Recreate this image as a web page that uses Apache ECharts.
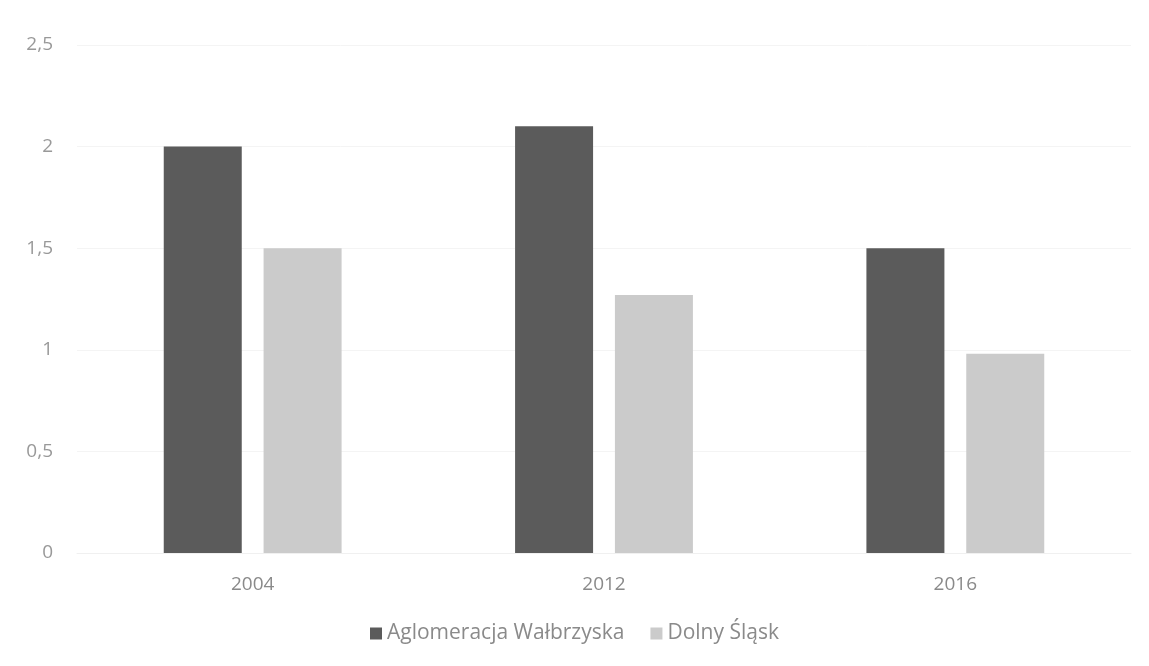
<!DOCTYPE html>
<html>
<head>
<meta charset="utf-8">
<script src="https://cdn.jsdelivr.net/npm/echarts@6/dist/echarts.min.js"></script>
<style>html,body{margin:0;padding:0;background:#fff;}#c{width:1149px;height:666px;}</style>
</head>
<body>
<div id="c"></div>
<script>
const categories = ['2004', '2012', '2016'];
const seriesNames = ['Aglomeracja Wałbrzyska', 'Dolny Śląsk'];
const aglomeracja = [2.0, 2.1, 1.5];
const dolnySlask = [1.5, 1.27, 0.98];
const yTicks = [0, 0.5, 1, 1.5, 2, 2.5];

const chart = echarts.init(document.getElementById('c'));
chart.setOption({
  backgroundColor: '#ffffff',
  animation: false,
  textStyle: { fontFamily: 'Open Sans' },
  grid: { left: 77, right: 18, top: 45, bottom: 113 },
  legend: {
    data: seriesNames,
    bottom: 17,
    left: 'center',
    itemWidth: 12,
    itemHeight: 12,
    itemGap: 26,
    icon: 'rect',
    textStyle: { color: '#8a8a8a', fontSize: 21, fontFamily: 'Open Sans' }
  },
  xAxis: {
    type: 'category',
    data: categories,
    axisLine: { show: true, lineStyle: { color: '#f0f0f0' } },
    axisTick: { show: false },
    axisLabel: { color: '#8a8a8a', fontSize: 19, margin: 22 }
  },
  yAxis: {
    type: 'value',
    min: 0,
    max: 2.5,
    interval: 0.5,
    axisLine: { show: false },
    axisTick: { show: false },
    splitLine: { lineStyle: { color: '#f4f4f4' } },
    axisLabel: {
      color: '#999999', fontSize: 19, margin: 24,
      formatter: v => String(v).replace('.', ',')
    }
  },
  series: [
    {
      name: seriesNames[0], type: 'bar', data: aglomeracja,
      barWidth: 78, barGap: '28%',
      itemStyle: { color: '#5b5b5b' }
    },
    {
      name: seriesNames[1], type: 'bar', data: dolnySlask,
      barWidth: 78,
      itemStyle: { color: '#cbcbcb' }
    }
  ]
});
</script>
</body>
</html>
